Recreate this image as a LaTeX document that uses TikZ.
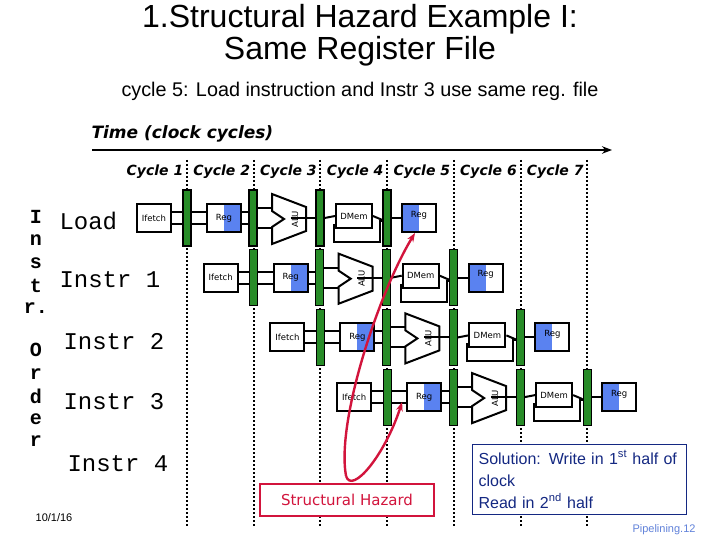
\documentclass[tikz,border=0pt]{standalone}
\usepackage{fontspec}
\setmainfont{Liberation Sans}
\newfontfamily\comic{DejaVu Sans}
\newfontfamily\mono{Liberation Mono}
\usetikzlibrary{arrows.meta}
\definecolor{pgreen}{RGB}{40,140,40}
\definecolor{rblue}{RGB}{90,130,240}
\definecolor{hzred}{RGB}{210,20,60}
\definecolor{navy}{RGB}{20,40,130}
\begin{document}
\begin{tikzpicture}[x=1pt,y=-1pt,
  stage/.style={draw,line width=2pt,minimum width=34pt,minimum height=28pt,inner sep=0pt,font=\comic\fontsize{8.5}{9}\selectfont},
  preg/.style={draw=black,line width=1.2pt,fill=pgreen,minimum width=8pt,minimum height=56pt,inner sep=0pt},
  wire/.style={line width=2pt},
  sl/.style={font=\comic\fontsize{8.5}{9}\selectfont},
  cyc/.style={font=\comic\bfseries\itshape\fontsize{14}{15}\selectfont},
  lab/.style={font=\mono\fontsize{24}{25}\selectfont,anchor=west}]
\useasboundingbox (0,0) rectangle (720,540);
\fill[white] (0,0) rectangle (720,540);
\node (t1) at (360,19) {\fontsize{32}{34}\selectfont 1.Structural Hazard Example I:};
\node (t2) at (360,51) {\fontsize{32}{34}\selectfont Same Register File};
\node (st) at (360,91) {\fontsize{19.8}{21}\selectfont cycle 5: Load instruction and Instr 3 use same reg. file};
\node[anchor=west] (time) at (88,134) {\comic\bfseries\itshape\fontsize{17}{18}\selectfont Time (clock cycles)};
\coordinate (ta) at (92,150); \coordinate (tb) at (612,150);
\draw[line width=2pt,-{Stealth[length=10pt]}] (ta) -- (tb);
% cycle lines
\foreach \k in {0,...,6} {
  \draw[line width=2pt,dash pattern=on 2pt off 2pt] ({187+66.7*\k},160) -- ({187+66.7*\k},526);
  \node[cyc,fill=white,inner sep=1pt] (cy\k) at ({155+66.7*\k},172) {Cycle \the\numexpr\k+1\relax};
}
% Instr order
\foreach \ch/\yy [count=\i] in {I/217,n/240,s/263,t/286,r./308,O/350,r/374,d/396,e/419,r/441}
  \node[font=\mono\bfseries\fontsize{20}{21}\selectfont] (io\i) at (36,\yy) {\ch};
\node[lab] (l0) at (56,221) {Load};
\node[lab] (l1) at (56,280) {Instr 1};
\node[lab] (l2) at (60,342) {Instr 2};
\node[lab] (l3) at (60,402) {Instr 3};
\node[lab] (l4) at (64,464) {Instr 4};
% pipeline rows
\foreach \r in {0,...,3} {
  \begin{scope}[shift={({66.7*\r},{218+59.7*\r})}]
    \node[stage,fill=white] (if\r) at (154,0) {Ifetch};
    \node[preg] (pa\r) at (187,0) {};
    \node[stage,fill=white] (rr\r) at (224,0) {};
    \fill[rblue] (224,-13) rectangle (240,13);
    \node[stage,draw,fill=none] (rrb\r) at (224,0) {Reg};
    \node[preg] (pb\r) at (253,0) {};
    \draw[line width=2pt,fill=white] (272,-24)--(306,-11)--(306,13)--(272,26)--(272,9)--(284,1)--(272,-7)--cycle;
    \node[rotate=90,sl] (alu\r) at (295,1) {ALU};
    \node[preg] (pc\r) at (320,0) {};
    \draw[wire] (334,6) -- (334,24) -- (380,24) -- (380,3) -- (383,3);
    \node[stage,fill=white,minimum width=36pt,minimum height=24pt] (dm\r) at (354,-2) {DMem};
    \node[preg] (pd\r) at (387,0) {};
    \node[stage,fill=white] (rw\r) at (419,0) {};
    \fill[rblue] (403,-13) rectangle (419,13);
    \node[stage,draw,fill=none] (rwb\r) at (419,0) {};
    \node[sl] at (419,-3) {Reg};
  \end{scope}
  \draw[wire] ([yshift=-6pt]if\r.east) -- ([yshift=-6pt]pa\r.west);
  \draw[wire] ([yshift=6pt]if\r.east) -- ([yshift=6pt]pa\r.west);
  \draw[wire] ([yshift=-6pt]pa\r.east) -- ([yshift=-6pt]rr\r.west);
  \draw[wire] ([yshift=6pt]pa\r.east) -- ([yshift=6pt]rr\r.west);
  \draw[wire] ([yshift=-6pt]rr\r.east) -- ([yshift=-6pt]pb\r.west);
  \draw[wire] ([yshift=6pt]rr\r.east) -- ([yshift=6pt]pb\r.west);
  \draw[wire] ([yshift=-10pt]pb\r.east) -- ++(15,0);
  \draw[wire] ([yshift=10pt]pb\r.east) -- ++(15,0);
  \draw[wire] ([yshift=1pt]alu\r.south) ++(-11,0) -- (pc\r.west);
  \draw[wire] (pc\r.east) -- (dm\r.west);
  \draw[wire] (dm\r.east) -- ([yshift=-2pt]pd\r.west);
  \draw[wire] (pd\r.east) -- (rw\r.west);
}
% hazard
\node[draw=hzred,line width=2pt,fill=white,minimum width=174pt,minimum height=32pt,text=hzred,font=\comic\fontsize{15}{16}\selectfont] (hz) at (347,500) {Structural Hazard};
\coordinate (hb) at (346,476);
\draw[hzred,line width=2.4pt,-{Stealth[length=9pt]}] (hb) .. controls (336,420) and (380,290) .. ([xshift=-4pt]rw0.south);
\draw[hzred,line width=2.4pt,-{Stealth[length=9pt]}] (hb) .. controls (352,495) and (385,455) .. ([xshift=-4pt,yshift=10pt]rr3.south west);
% solution
\node[draw=navy,line width=1.2pt,fill=white,anchor=north west,text width=202pt,align=left,text=navy,font=\fontsize{16}{22}\selectfont,inner sep=6pt] (sol) at (472,444) {Solution: Write in 1\textsuperscript{st} half of clock\\Read in 2\textsuperscript{nd} half};
\node[font=\fontsize{11}{12}\selectfont] (dt) at (54,518) {10/1/16};
\node[text=rblue!80!gray,font=\fontsize{11}{12}\selectfont] (pg) at (664,530) {Pipelining.12};
\end{tikzpicture}
\end{document}
